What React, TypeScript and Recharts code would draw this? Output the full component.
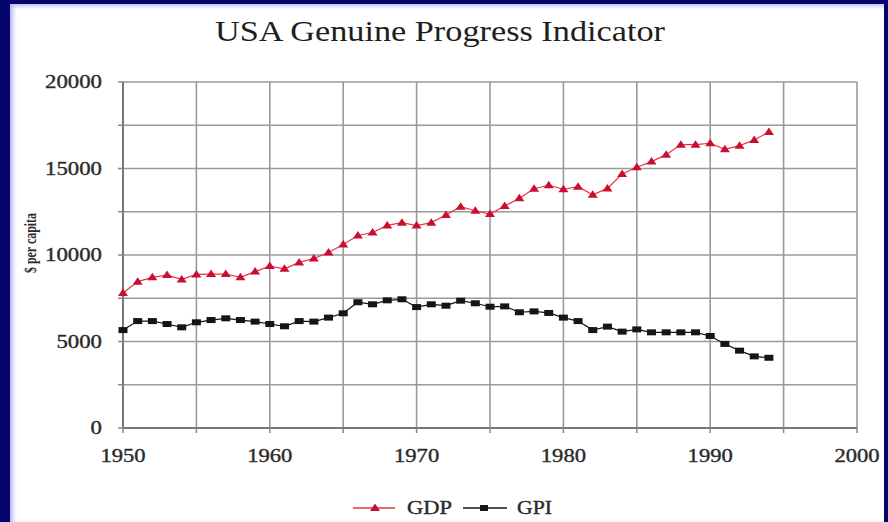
import React from 'react';
import { LineChart, Line, XAxis, YAxis, CartesianGrid } from 'recharts';

const years = [
  1950, 1951, 1952, 1953, 1954, 1955, 1956, 1957, 1958, 1959,
  1960, 1961, 1962, 1963, 1964, 1965, 1966, 1967, 1968, 1969,
  1970, 1971, 1972, 1973, 1974, 1975, 1976, 1977, 1978, 1979,
  1980, 1981, 1982, 1983, 1984, 1985, 1986, 1987, 1988, 1989,
  1990, 1991, 1992, 1993, 1994,
];
const gdpValues = [
  7800, 8460, 8710, 8840, 8590, 8880, 8900, 8900, 8710, 9040,
  9360, 9200, 9570, 9800, 10140, 10610, 11130, 11300, 11710, 11870,
  11700, 11870, 12310, 12790, 12560, 12370, 12830, 13280, 13830, 14030,
  13800, 13950, 13480, 13850, 14680, 15070, 15400, 15800, 16380, 16380,
  16460, 16110, 16320, 16650, 17110,
];
const gpiValues = [
  5660, 6180, 6180, 6010, 5820, 6110, 6240, 6340, 6240, 6150,
  6010, 5880, 6180, 6150, 6380, 6630, 7270, 7150, 7380, 7440,
  6990, 7150, 7070, 7360, 7210, 7010, 7030, 6690, 6740, 6650,
  6380, 6180, 5660, 5860, 5570, 5700, 5530, 5530, 5530, 5530,
  5320, 4860, 4470, 4140, 4060,
];
const xTicks = [1950, 1955, 1960, 1965, 1970, 1975, 1980, 1985, 1990, 1995, 2000];
const xLabels = [1950, 1960, 1970, 1980, 1990, 2000];
const yTicks = [0, 2500, 5000, 7500, 10000, 12500, 15000, 17500, 20000];
const yLabels = [0, 5000, 10000, 15000, 20000];
const seriesNames = ['GDP', 'GPI'];
const titleText = 'USA Genuine Progress Indicator';
const yAxisLabel = '$ per capita';

const data = years.map((y, i) => ({ year: y, GDP: gdpValues[i], GPI: gpiValues[i] }));

const SERIF = '"Liberation Serif", "Times New Roman", serif';
const RED_LINE = '#ee3044';
const RED_MARK = '#c8102e';
const BLACK = '#151515';
const TEXT = '#2a2a2a';

const XTick = (props: any) => {
  const { x, y, payload } = props;
  const v = payload.value;
  if (!xLabels.includes(v)) return <g />;
  const s = String(v);
  return (
    <text x={x} y={y} dy="0.71em" textAnchor="middle" fontFamily={SERIF} fontSize={18}
      fill={TEXT} stroke={TEXT} strokeWidth={0.35} textLength={s.length * 11.3} lengthAdjust="spacingAndGlyphs">{s}</text>
  );
};

const YTick = (props: any) => {
  const { x, y, payload } = props;
  const v = payload.value;
  if (!yLabels.includes(v)) return <g />;
  const s = String(v);
  return (
    <text x={x} y={y} dy="0.355em" textAnchor="end" fontFamily={SERIF} fontSize={18}
      fill={TEXT} stroke={TEXT} strokeWidth={0.35} textLength={s.length * 11.4} lengthAdjust="spacingAndGlyphs">{s}</text>
  );
};

const triangleDot = (props: any) => {
  const { cx, cy, index } = props;
  if (cx == null || cy == null) return <g key={`t${index}`} />;
  return (
    <polygon key={`t${index}`} points={`${cx},${cy - 4.5} ${cx - 5},${cy + 3} ${cx + 5},${cy + 3}`} fill={RED_MARK} />
  );
};

const squareDot = (props: any) => {
  const { cx, cy, index } = props;
  if (cx == null || cy == null) return <g key={`s${index}`} />;
  return <rect key={`s${index}`} x={cx - 4.5} y={cy - 3} width={9} height={6} fill={BLACK} />;
};

export default function App() {
  return (
    <div style={{ position: 'absolute', left: 0, top: 0, width: 888, height: 522, background: '#05056c', overflow: 'hidden' }}>
      <div style={{ position: 'absolute', left: 10, top: 4, width: 874, height: 518, background: '#ffffff', boxShadow: 'inset 3px 2px 4px rgba(90,90,220,0.45)' }}>
        <svg width={874} height={60} style={{ position: 'absolute', left: 0, top: 0 }}>
          <text x={430} y={37} textAnchor="middle" fontFamily={SERIF} fontSize={30} fill="#1e1e1e"
            textLength={450} lengthAdjust="spacingAndGlyphs">{titleText}</text>
        </svg>
        <svg width={60} height={518} style={{ position: 'absolute', left: 0, top: 0 }}>
          <text x={0} y={0} transform="translate(26,239) rotate(-90)" textAnchor="middle" fontFamily={SERIF}
            fontSize={17} fontWeight="bold" fill={TEXT} textLength={60} lengthAdjust="spacingAndGlyphs">{yAxisLabel}</text>
        </svg>
        <div style={{ position: 'absolute', left: 0, top: 0 }}>
          <LineChart width={874} height={518} data={data} margin={{ top: 78, right: 27, bottom: 64, left: 53 }}>
            <CartesianGrid stroke="#9a9a9a" strokeWidth={1.6} />
            <XAxis dataKey="year" type="number" domain={[1950, 2000]} ticks={xTicks} interval={0}
              tick={<XTick />} tickSize={5} tickMargin={16} height={30}
              axisLine={{ stroke: '#777', strokeWidth: 2 }} tickLine={{ stroke: '#888', strokeWidth: 1.5 }} />
            <YAxis type="number" domain={[0, 20000]} ticks={yTicks} interval={0} width={60}
              tick={<YTick />} tickSize={5} tickMargin={16}
              axisLine={{ stroke: '#777', strokeWidth: 2 }} tickLine={{ stroke: '#888', strokeWidth: 1.5 }} />
            <Line type="linear" dataKey="GDP" stroke={RED_LINE} strokeWidth={1.2} dot={triangleDot} activeDot={false} isAnimationActive={false} />
            <Line type="linear" dataKey="GPI" stroke={BLACK} strokeWidth={1.2} dot={squareDot} activeDot={false} isAnimationActive={false} />
          </LineChart>
        </div>
        <svg width={874} height={40} style={{ position: 'absolute', left: 0, top: 484 }}>
          <g>
            <line x1={343} y1={20} x2={385} y2={20} stroke={RED_LINE} strokeWidth={1.5} />
            <polygon points="365,15.5 360,23 370,23" fill={RED_MARK} />
            <text x={397} y={20} dy="0.355em" fontFamily={SERIF} fontSize={18} fill={TEXT} stroke={TEXT} strokeWidth={0.35}
              textLength={45} lengthAdjust="spacingAndGlyphs">{seriesNames[0]}</text>
          </g>
          <g>
            <line x1={453} y1={20} x2={497} y2={20} stroke={BLACK} strokeWidth={1.5} />
            <rect x={470} y={17} width={8} height={6} fill={BLACK} />
            <text x={507} y={20} dy="0.355em" fontFamily={SERIF} fontSize={18} fill={TEXT} stroke={TEXT} strokeWidth={0.35}
              textLength={35} lengthAdjust="spacingAndGlyphs">{seriesNames[1]}</text>
          </g>
        </svg>
      </div>
    </div>
  );
}
